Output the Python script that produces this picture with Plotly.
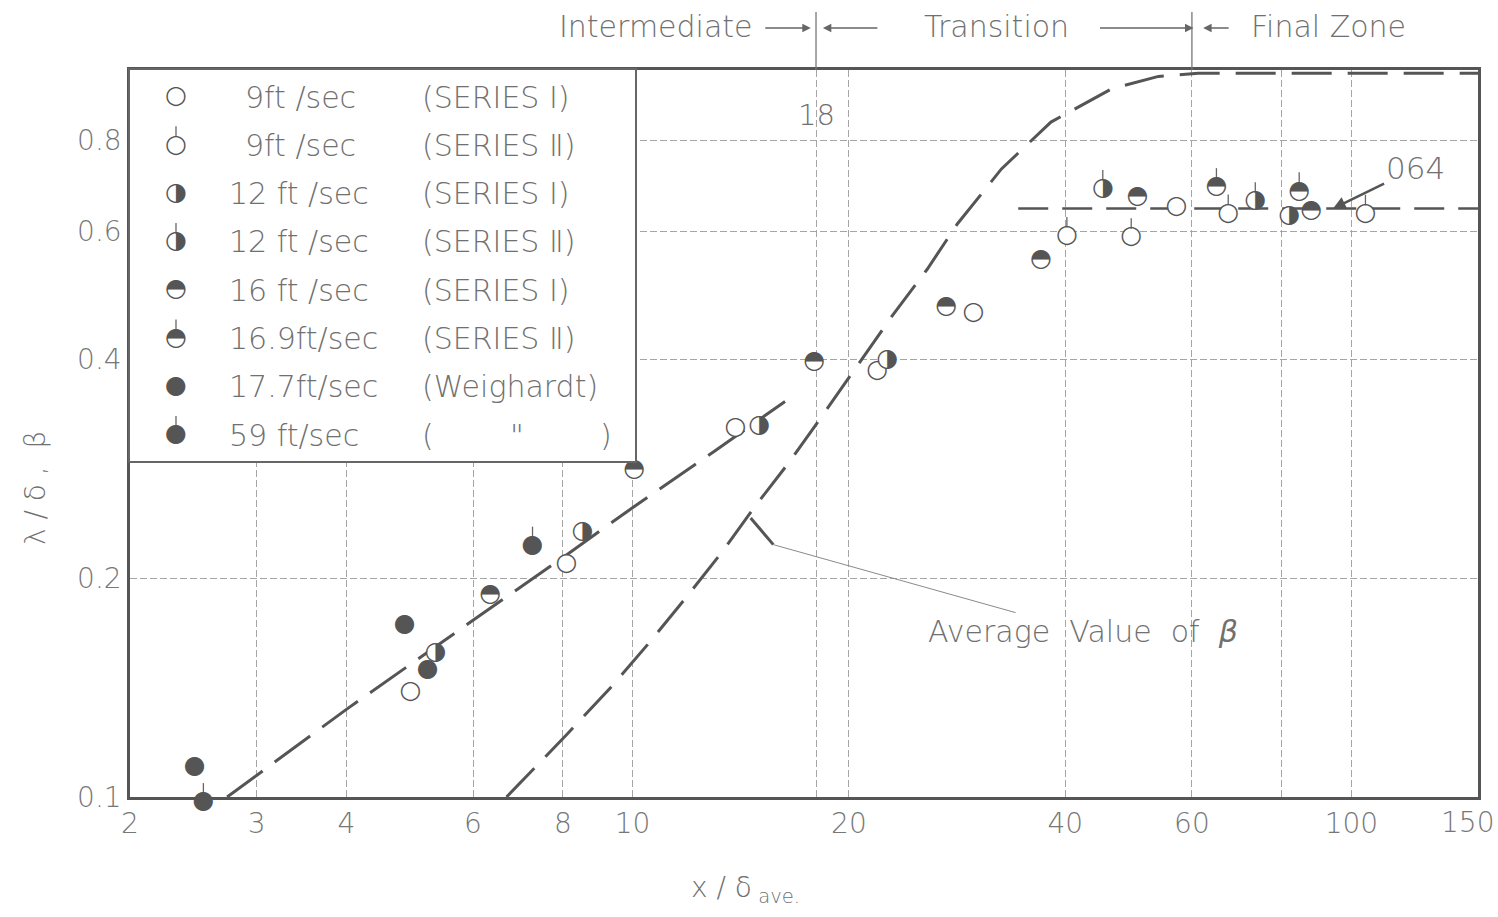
import numpy as np
import plotly.graph_objects as go

# ---------------- data ----------------
s9_1_x = [4.91, 8.09, 13.9, 21.9, 29.8, 57.1]
s9_1_y = [0.1395, 0.2094, 0.322, 0.386, 0.464, 0.648]
s9_2_x = [40.2, 49.4, 67.4, 104.6]
s9_2_y = [0.591, 0.589, 0.635, 0.634]
s12_1_x = [5.32, 8.52, 15.0, 22.6, 81.9]
s12_1_y = [0.158, 0.232, 0.324, 0.399, 0.631]
s12_2_x = [45.1, 73.5]
s12_2_y = [0.686, 0.660]
s16_1_x = [6.34, 10.05, 17.9, 27.3, 37.0, 50.4, 87.9]
s16_1_y = [0.190, 0.282, 0.397, 0.472, 0.549, 0.670, 0.641]
s169_2_x = [64.9, 84.6]
s169_2_y = [0.690, 0.681]
w177_x = [2.46, 4.82, 5.19]
w177_y = [0.110, 0.1726, 0.1496]
w59_x = [2.53, 7.26]
w59_y = [0.0984, 0.2217]

lam_x = [2.73, 4, 6, 8, 10, 13, 16.3]
lam_y = [0.100, 0.132, 0.175, 0.2135, 0.25, 0.299, 0.350]

beta_x = [6.68, 8.09, 9.34, 10.55, 11.9, 13.3, 14.76, 16.5, 18.5, 20.5, 22.9,
          25.7, 28.3, 32.6, 38.2, 46.4, 53.9, 61.2, 150]
beta_y = [0.100, 0.1217, 0.1417, 0.163, 0.1886, 0.2168, 0.250, 0.2884, 0.338,
          0.391, 0.457, 0.532, 0.614, 0.731, 0.848, 0.942, 0.98, 0.99, 0.99]

avg_x = [34.4, 150]
avg_y = [0.645, 0.645]

x_tickvals = [2, 3, 4, 6, 8, 10, 18, 20, 40, 60, 80, 100, 150]
x_ticktext = ["2", "3", "4", "6", "8", "10", "", "20", "40", "60", "", "100", "150"]
y_tickvals = [0.1, 0.2, 0.4, 0.6, 0.8]
y_ticktext = ["0.1", "0.2", "0.4", "0.6", "0.8"]

speed_labels = ["9ft /sec", "9ft /sec", "12 ft /sec", "12 ft /sec", "16 ft /sec",
                "16.9ft/sec", "17.7ft/sec", "59 ft/sec"]
series_labels = ["(SERIES Ⅰ)", "(SERIES Ⅱ)", "(SERIES Ⅰ)", "(SERIES Ⅱ)",
                 "(SERIES Ⅰ)", "(SERIES Ⅱ)", "(Weighardt)",
                 "(\u00a0\u00a0\u00a0\u00a0\u00a0\u00a0\u00a0\u00a0\"\u00a0\u00a0\u00a0\u00a0\u00a0\u00a0\u00a0\u00a0)"]

# ---------------- layout geometry ----------------
W, H = 1498, 917
L, R, T, B = 130, 20, 70, 100          # outer margins
EXTRA = 20                               # strip below the frame for points under 0.1
PLOT_BOTTOM = H - B - EXTRA              # pixel row of the x axis (797)
AREA_H = H - T - B                       # height of the paper area


def pxx(p):
    return (p - L) / (W - L - R)


def pxy(p):
    return (H - B - p) / AREA_H


DECADE_PX = PLOT_BOTTOM - T

# ---------------- styling ----------------
FONT = "DejaVu Sans"
TXT = "#707070"
INK = "#555555"
GLYPH_SIZE = 25
BACK_SIZE = 17
TICK_FACTOR = 0.062   # fraction of y for the little "Series II" flag

series = [
    # x, y, glyph, has tick
    (s9_1_x, s9_1_y, "○", False),
    (s9_2_x, s9_2_y, "○", True),
    (s12_1_x, s12_1_y, "◑", False),
    (s12_2_x, s12_2_y, "◑", True),
    (s16_1_x, s16_1_y, "◓", False),
    (s169_2_x, s169_2_y, "◓", True),
    (w177_x, w177_y, "●", False),
    (w59_x, w59_y, "●", True),
]

fig = go.Figure()

# dashed curves
fig.add_trace(go.Scatter(x=lam_x, y=lam_y, mode="lines",
                         line=dict(color=INK, width=3, dash="44px,15px"),
                         hoverinfo="skip"))
fig.add_trace(go.Scatter(x=beta_x, y=beta_y, mode="lines",
                         line=dict(color=INK, width=3, dash="40px,16px"),
                         hoverinfo="skip"))
fig.add_trace(go.Scatter(x=avg_x, y=avg_y, mode="lines",
                         line=dict(color=INK, width=2.5, dash="30px,14px"),
                         hoverinfo="skip"))

for (xs, ys, g, tick) in series:
    err = None
    if tick:
        err = dict(type="data", symmetric=False,
                   array=[v * TICK_FACTOR for v in ys], arrayminus=[0] * len(ys),
                   width=0, thickness=1.3, color="#666666")
    # points lying under 0.1 use the taller invisible x3/y3 subplot so they are shown
    low = min(ys) < 0.1
    fig.add_trace(go.Scatter(
        x=xs, y=ys, mode="markers+text", text=[g] * len(xs),
        textposition="middle center",
        textfont=dict(family=FONT, size=GLYPH_SIZE, color=INK),
        marker=dict(size=BACK_SIZE, color="white", line=dict(width=0)),
        error_y=err, cliponaxis=False, hoverinfo="x+y",
        xaxis="x3" if low else "x", yaxis="y3" if low else "y"))

# legend inset (its own small subplot)
rows = [97 + 48.3 * i for i in range(len(series))]
for i, (xs, ys, g, tick) in enumerate(series):
    err = None
    if tick:
        err = dict(type="data", symmetric=False, array=[0], arrayminus=[19],
                   width=0, thickness=1.3, color="#666666")
    fig.add_trace(go.Scatter(
        x=[176], y=[rows[i]], mode="markers+text", text=[g],
        textposition="middle center",
        textfont=dict(family=FONT, size=GLYPH_SIZE, color=INK),
        marker=dict(size=BACK_SIZE, color="white", line=dict(width=0)),
        error_y=err, cliponaxis=False, hoverinfo="skip",
        xaxis="x2", yaxis="y2"))

lg_font = dict(family=FONT, size=30, color=TXT, weight=300)
annotations = []
for i in range(len(series)):
    sx = 243 if speed_labels[i].startswith("9") else 227
    annotations.append(dict(xref="x2", yref="y2", x=sx, y=rows[i], text=speed_labels[i],
                            showarrow=False, xanchor="left", yanchor="middle",
                            font=lg_font))
    annotations.append(dict(xref="x2", yref="y2", x=420, y=rows[i], text=series_labels[i],
                            showarrow=False, xanchor="left", yanchor="middle",
                            font=lg_font))

big = dict(family=FONT, size=30, color=TXT, weight=300)
axfont = dict(family=FONT, size=28, color="#777777", weight=300)
# header
for cx, txt in [(656, "Intermediate"), (996, "Transition"), (1328, "Final Zone")]:
    annotations.append(dict(xref="paper", yref="paper", x=pxx(cx), y=pxy(27), text=txt,
                            showarrow=False, xanchor="center", yanchor="middle", font=big))
for tip, ax in [(17.7, -47), (18.4, 56), (60.3, -95), (62.2, 27)]:
    annotations.append(dict(xref="x", yref="paper", x=np.log10(tip), y=pxy(28), text="",
                            showarrow=True, ax=ax, ay=0, arrowhead=2, arrowsize=1.3,
                            arrowwidth=1.3, arrowcolor="#666666", standoff=0))

# last x tick label drawn as a note so it stays inside the page without moving the frame
last_lbl = x_ticktext[-1]
annotations.append(dict(xref="paper", yref="paper", x=pxx(W - 2), y=pxy(822),
                        text=last_lbl, showarrow=False, xanchor="right",
                        yanchor="middle", font=axfont))

annotations += [
    dict(xref="x", yref="paper", x=np.log10(18), y=pxy(115), text="18", showarrow=False,
         xanchor="center", yanchor="middle",
         font=dict(family=FONT, size=29, color=TXT, weight=300)),
    dict(xref="x", yref="y", x=np.log10(94.3), y=np.log10(0.645), text="064",
         showarrow=True, ax=82, ay=-40, arrowhead=2, arrowsize=1, arrowwidth=2.5,
         arrowcolor=INK, xanchor="center", yanchor="middle",
         font=dict(family=FONT, size=31, color=TXT, weight=300)),
    dict(xref="x", yref="y", x=np.log10(15.7), y=np.log10(0.2224),
         text="Average  Value  of  <i>β</i>", showarrow=True, ax=310, ay=87,
         arrowhead=0, arrowwidth=1, arrowcolor="#8a8a8a",
         xanchor="center", yanchor="middle",
         font=dict(family=FONT, size=30, color=TXT, weight=300)),
    dict(xref="paper", yref="paper", x=pxx(745), y=pxy(889), text="x / δ<sub> ave.</sub>",
         showarrow=False, xanchor="center", yanchor="middle",
         font=dict(family=FONT, size=28, color=TXT, weight=300)),
    dict(xref="paper", yref="paper", x=pxx(35), y=pxy(488), text="λ / δ ,  β",
         textangle=-90, showarrow=False, xanchor="center", yanchor="middle",
         font=dict(family=FONT, size=28, color=TXT, weight=300)),
]

shapes = [
    # white card behind the legend, drawn in the legend subplot so it hides the grid
    dict(type="rect", xref="x2", yref="y2", x0=130, x1=635, y0=70, y1=461,
         fillcolor="white", line=dict(width=0), layer="below"),
    dict(type="line", xref="x", yref="paper", x0=18, x1=18, y0=pxy(T), y1=pxy(12),
         line=dict(color="#777777", width=1.3)),
    dict(type="line", xref="x", yref="paper", x0=60, x1=60, y0=pxy(T), y1=pxy(12),
         line=dict(color="#777777", width=1.3)),
    dict(type="line", xref="x", yref="y", x0=14.6, y0=0.242, x1=15.7, y1=0.2224,
         line=dict(color=INK, width=3)),
]

xr = [np.log10(2), np.log10(150) + 1e-6]
fig.update_layout(
    width=W, height=H,
    margin=dict(l=L, r=R, t=T, b=B, autoexpand=False),
    paper_bgcolor="white", plot_bgcolor="rgba(0,0,0,0)",
    showlegend=False,
    annotations=annotations, shapes=shapes,
    xaxis=dict(type="log", range=xr, anchor="y", automargin=False,
               tickmode="array", tickvals=x_tickvals, ticktext=x_ticktext[:-1] + [""],
               showgrid=True, gridcolor="#a5a5a5", gridwidth=1, griddash="7px,3px",
               showline=True, mirror=True, linecolor=INK, linewidth=2.5,
               ticks="", zeroline=False, tickfont=axfont),
    yaxis=dict(type="log", range=[-1, 0], domain=[pxy(PLOT_BOTTOM), 1], anchor="x",
               automargin=False,
               tickmode="array", tickvals=y_tickvals, ticktext=y_ticktext,
               showgrid=True, gridcolor="#a5a5a5", gridwidth=1, griddash="7px,3px",
               showline=True, mirror=True, linecolor=INK, linewidth=2.5,
               ticks="", zeroline=False, tickfont=axfont),
    xaxis3=dict(type="log", range=xr, domain=[0, 1], anchor="y3", visible=False,
                showgrid=False, zeroline=False),
    yaxis3=dict(type="log", range=[-1 - EXTRA / DECADE_PX, 0], domain=[0, 1],
                anchor="x3", visible=False, showgrid=False, zeroline=False),
    xaxis2=dict(domain=[0, pxx(635)], range=[130, 635], anchor="y2",
                showgrid=False, zeroline=False, showticklabels=False, ticks="",
                showline=True, mirror=True, linecolor="#666666", linewidth=1.5),
    yaxis2=dict(domain=[pxy(461), 1], range=[461, 70], anchor="x2",
                showgrid=False, zeroline=False, showticklabels=False, ticks="",
                showline=True, mirror=True, linecolor="#666666", linewidth=1.5),
)

fig.write_html("out.html",
               config={"displayModeBar": False},
               post_script="document.body.style.margin='0px';"
                           "document.body.style.overflow='hidden';")
